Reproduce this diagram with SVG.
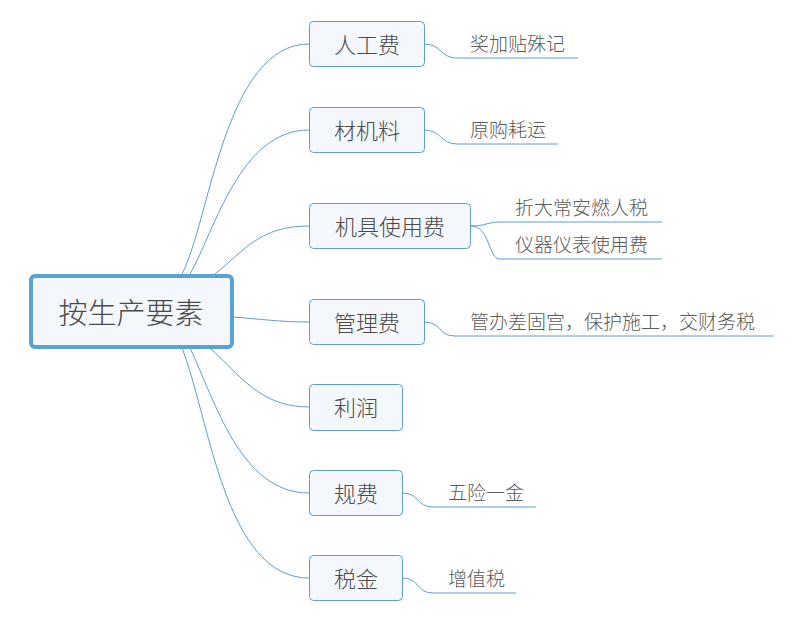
<svg xmlns="http://www.w3.org/2000/svg" width="800" height="622" viewBox="0 0 800 622">
<style>
.bg{fill:#ffffff}
.root rect{fill:#f4f7fc;stroke:#5aa1d6;stroke-width:4}
.node rect{fill:#f4f7fc;stroke:#5a9fd4;stroke-width:1}
text{font-family:"Noto Sans CJK SC","Liberation Sans",sans-serif;font-weight:300;dominant-baseline:central}
.rt{font-size:29px;fill:#4a4a4a;text-anchor:middle}
.nt{font-size:22px;fill:#4a4a4a;text-anchor:middle}
.lt{font-size:19px;fill:#5a5a5a}
#connectors path{fill:none;stroke:#5a9fd4;stroke-width:1}
</style>
<rect class="bg" x="0" y="0" width="800" height="622"/>
<g id="connectors">
<path d="M182,274 C210,220 225,44 309,44"/>
<path d="M190,274 C215,230 240,130 309,130"/>
<path d="M215,274 C245,250 260,226 309,226"/>
<path d="M233,317 C260,319 280,322 309,322"/>
<path d="M210,348 C240,375 260,407 309,407"/>
<path d="M190,348 C215,400 240,493 309,493"/>
<path d="M182,348 C210,420 225,578 309,578"/>
<path d="M424,44 C442,44 440,58 457,58 L578,58"/>
<path d="M424,130 C442,130 440,144 457,144 L558,144"/>
<path d="M471,226 C485,226 488,222 500,222 L662,222"/>
<path d="M471,226 C490,226 488,259 500,259 L662,259"/>
<path d="M424,322 C442,322 438,336 455,336 L774,336"/>
<path d="M402,493 C420,493 416,507 433,507 L536,507"/>
<path d="M402,578 C420,578 416,593 433,593 L516,593"/>
</g>
<g id="root" class="root">
<rect x="31" y="276" width="201" height="71" rx="4"/>
<text class="rt" x="131" y="311">按生产要素</text>
</g>
<g id="n1" class="node"><rect x="309.5" y="21.5" width="115" height="45" rx="4"/><text class="nt" x="367" y="43">人工费</text></g>
<g id="n2" class="node"><rect x="309.5" y="107.5" width="115" height="45" rx="4"/><text class="nt" x="367" y="129">材机料</text></g>
<g id="n3" class="node"><rect x="309.5" y="203.5" width="161" height="45" rx="4"/><text class="nt" x="390" y="225">机具使用费</text></g>
<g id="n4" class="node"><rect x="309.5" y="299.5" width="115" height="45" rx="4"/><text class="nt" x="367" y="321">管理费</text></g>
<g id="n5" class="node"><rect x="309.5" y="384.5" width="93" height="46" rx="4"/><text class="nt" x="356" y="406">利润</text></g>
<g id="n6" class="node"><rect x="309.5" y="470.5" width="93" height="45" rx="4"/><text class="nt" x="356" y="492">规费</text></g>
<g id="n7" class="node"><rect x="309.5" y="555.5" width="93" height="45" rx="4"/><text class="nt" x="356" y="577">税金</text></g>
<g id="l1"><text class="lt" x="470" y="42">奖加贴殊记</text></g>
<g id="l2"><text class="lt" x="470" y="128">原购耗运</text></g>
<g id="l3"><text class="lt" x="515" y="206">折大常安燃人税</text></g>
<g id="l4"><text class="lt" x="515" y="243">仪器仪表使用费</text></g>
<g id="l5"><text class="lt" x="470" y="320">管办差固宫，保护施工，交财务税</text></g>
<g id="l6"><text class="lt" x="448" y="491">五险一金</text></g>
<g id="l7"><text class="lt" x="448" y="577">增值税</text></g>
</svg>
